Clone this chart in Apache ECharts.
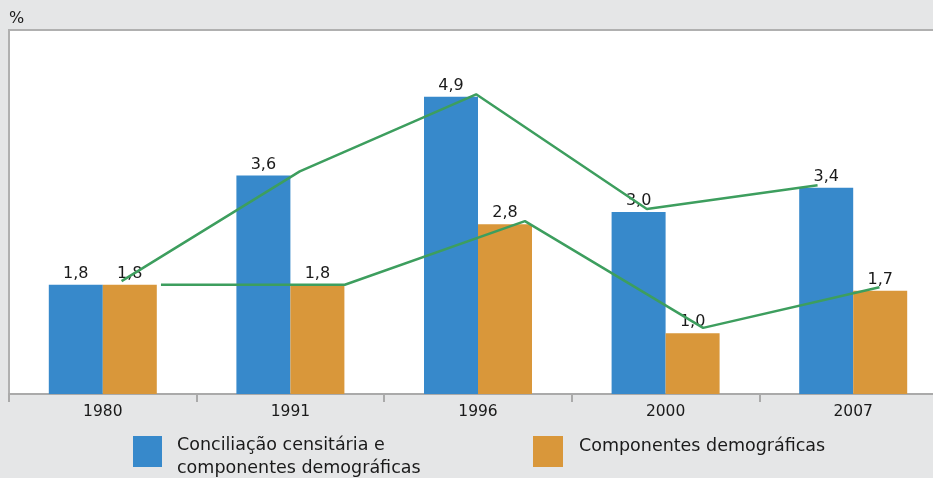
<!DOCTYPE html>
<html>
<head>
<meta charset="utf-8">
<script src="https://cdn.jsdelivr.net/npm/echarts@6/dist/echarts.min.js"></script>
<style>
  html, body { margin: 0; padding: 0; background: #e5e6e7; overflow: hidden; }
  /* the plot runs past the right edge of the picture, as in the original */
  #chart { width: 947px; height: 478px; }
</style>
</head>
<body>
<div id="chart"></div>
<script>
// dados
const years = ['1980', '1991', '1996', '2000', '2007']
const conciliacao = [1.8, 3.6, 4.9, 3.0, 3.4]
const componentes = [1.8, 1.8, 2.8, 1.0, 1.7]
// linhas verdes (posição em unidades de categoria, valor em %)
const lineAX = [0.10, 1.05, 1.99, 2.90, 3.81]
const lineAY = [1.86, 3.67, 4.94, 3.05, 3.44]
const lineBX = [0.31, 1.29, 2.25, 3.20, 4.14]
const lineBY = [1.80, 1.80, 2.85, 1.09, 1.76]

const nameA = 'Conciliação censitária e\ncomponentes demográficas'
const nameB = 'Componentes demográficas'

const fmt = v => String(v.toFixed(1)).replace('.', ',')
const font = 'DejaVu Sans, sans-serif'

const chart = echarts.init(document.getElementById('chart'))
const option = {
  backgroundColor: '#e5e6e7',
  animation: false,
  textStyle: { fontFamily: font },
  graphic: [
    { type: 'text', left: 9, top: 11, style: { text: '%', fontSize: 16, fill: '#1a1a1a', fontFamily: font } }
  ],
  legend: [
    {
      // square sits high next to the two text lines
      left: 133,
      top: 433.5,
      padding: 0,
      itemWidth: 29,
      itemHeight: 41,
      icon: 'path://M0,0H29V31H0Z M0,41L29,41Z',
      textStyle: { fontSize: 17.5, color: '#1a1a1a', fontFamily: font, lineHeight: 23, padding: [0, 0, 0, 10] },
      data: [nameA]
    },
    {
      left: 533,
      top: 436,
      padding: 0,
      itemWidth: 30,
      itemHeight: 31,
      icon: 'rect',
      formatter: () => '{b|Componentes demográficas}',
      textStyle: {
        fontSize: 17.5, color: '#1a1a1a', fontFamily: font, padding: [0, 0, 0, 11],
        rich: {
          b: { fontSize: 17.5, fontFamily: font, color: '#1a1a1a', lineHeight: 20, padding: [0, 0, 10, 0] }
        }
      },
      data: [nameB]
    }
  ],
  grid: {
    show: true,
    left: 9,
    right: 0,
    top: 30,
    bottom: 84,
    backgroundColor: '#ffffff',
    borderColor: '#b0b0b0',
    borderWidth: 2
  },
  xAxis: [
    {
      type: 'category',
      data: years,
      axisLine: { lineStyle: { color: '#aaaaaa', width: 2 } },
      axisTick: { show: true, length: 8, lineStyle: { color: '#aaaaaa', width: 2 } },
      axisLabel: { fontSize: 15.5, color: '#1a1a1a', margin: 10, fontFamily: font }
    },
    {
      type: 'value',
      min: -0.5,
      max: 4.5,
      show: false
    }
  ],
  yAxis: {
    type: 'value',
    min: 0,
    max: 6,
    show: false
  },
  series: [
    {
      name: nameA,
      type: 'bar',
      data: conciliacao,
      barWidth: 54,
      barGap: '0%',
      itemStyle: { color: '#3789cb' },
      label: { show: true, position: 'top', distance: 3, fontSize: 16, color: '#1a1a1a', formatter: p => fmt(p.value) }
    },
    {
      name: nameB,
      type: 'bar',
      data: componentes,
      barWidth: 54,
      barGap: '0%',
      itemStyle: { color: '#d9973a' },
      label: { show: true, position: 'top', distance: 3, fontSize: 16, color: '#1a1a1a', formatter: p => fmt(p.value) }
    },
    {
      type: 'line',
      xAxisIndex: 1,
      data: lineAX.map((x, i) => [x, lineAY[i]]),
      symbol: 'none',
      lineStyle: { color: '#3d9e5e', width: 2.5 },
      z: 5
    },
    {
      type: 'line',
      xAxisIndex: 1,
      data: lineBX.map((x, i) => [x, lineBY[i]]),
      symbol: 'none',
      lineStyle: { color: '#3d9e5e', width: 2.5 },
      z: 5
    }
  ]
}
chart.setOption(option)
</script>
</body>
</html>
